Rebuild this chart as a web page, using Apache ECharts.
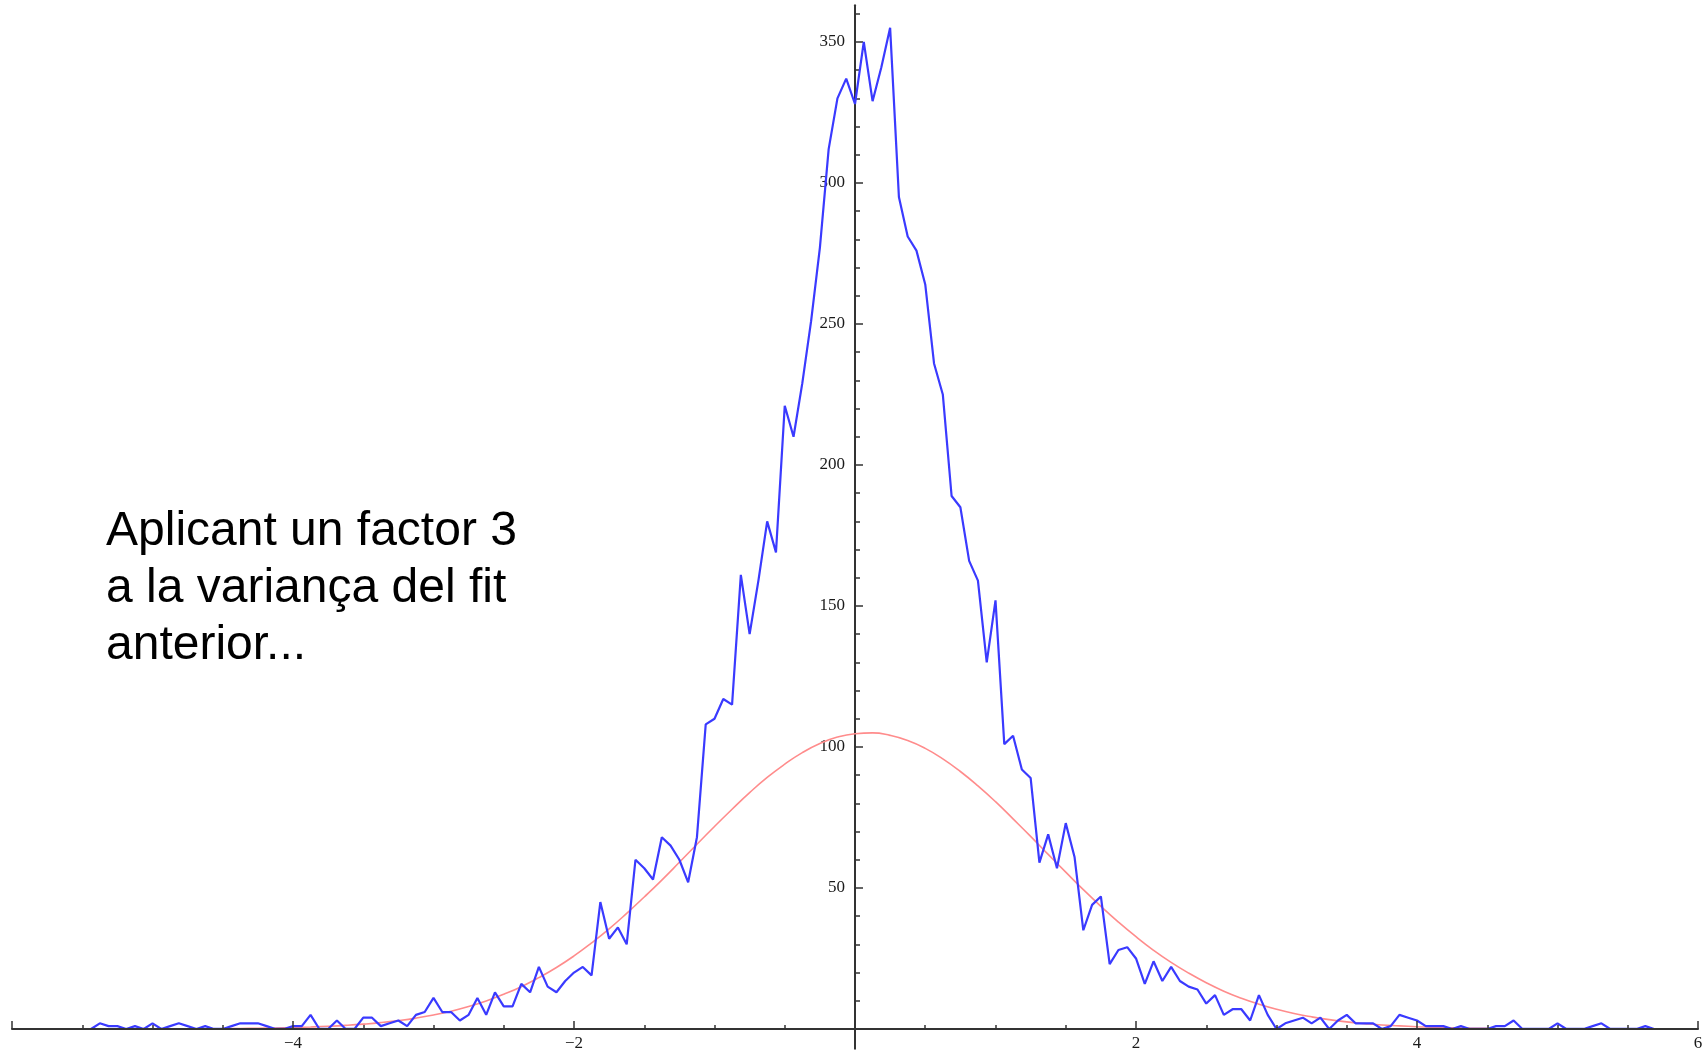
<!DOCTYPE html>
<html>
<head>
<meta charset="utf-8">
<script src="https://cdn.jsdelivr.net/npm/echarts@6/dist/echarts.min.js"></script>
<style>
	html, body { margin: 0; padding: 0; background: #fff; }
	#chart { width: 1702px; height: 1056px; }
</style>
</head>
<body>
<div id="chart"></div>
<script>
// histogram counts, one per bin of width 1/16, first bin centre at -5.4375
var binStart = -5.4375;
var binStep = 0.0625;
var counts = [
	0, 2, 1, 1, 0, 1, 0, 2, 0, 1, 2, 1, 0, 1, 0, 0,
	1, 2, 2, 2, 1, 0, 0, 1, 1, 5, 0, 0, 3, 0, 0, 4,
	4, 1, 2, 3, 1, 5, 6, 11, 6, 6, 3, 5, 11, 5, 13, 8,
	8, 16, 13, 22, 15, 13, 17, 20, 22, 19, 45, 32, 36, 30, 60, 57,
	53, 68, 65, 60, 52, 68, 108, 110, 117, 115, 161, 140, 159, 180, 169, 221,
	210, 229, 251, 277, 312, 330, 337, 328, 350, 329, 341, 355, 295, 281, 276, 264,
	236, 225, 189, 185, 166, 159, 130, 152, 101, 104, 92, 89, 59, 69, 57, 73,
	61, 35, 44, 47, 23, 28, 29, 25, 16, 24, 17, 22, 17, 15, 14, 9,
	12, 5, 7, 7, 3, 12, 5, 0, 2, 3, 4, 2, 4, 0, 3, 5,
	2, 2, 2, 0, 1, 5, 4, 3, 1, 1, 1, 0, 1, 0, 0, 0,
	1, 1, 3, 0, 0, 0, 0, 2, 0, 0, 0, 1, 2, 0, 0, 0,
	0, 1, 0
];

// fitted gaussian, read every 0.125 from -4.5 to 4.5
var fitStart = -4.5;
var fitStep = 0.125;
var fitValues = [
	0.12, 0.18, 0.25, 0.36, 0.5, 0.69, 0.94, 1.27, 1.7, 2.25, 2.96, 3.84, 4.95, 6.3, 7.95, 9.93,
	12.3, 15.0, 18.2, 21.8, 25.9, 30.5, 35.5, 41.0, 46.8, 52.8, 59.1, 65.5, 71.8, 77.9, 83.8, 89.2,
	93.9, 98.0, 101.2, 103.5, 104.7, 105.0, 104.1, 102.3, 99.5, 95.8, 91.3, 86.2, 80.6, 74.5, 68.3, 61.9,
	55.6, 49.4, 43.5, 37.9, 32.7, 27.9, 23.6, 19.8, 16.4, 13.4, 10.9, 8.8, 7.0, 5.5, 4.3, 3.3,
	2.5, 1.9, 1.4, 1.1, 0.8, 0.57, 0.4, 0.29, 0.2
];

var xTickLabels = [-4, -2, 2, 4, 6];
var yMajorTicks = [50, 100, 150, 200, 250, 300, 350];
var yMinorTicks = [10, 20, 30, 40, 60, 70, 80, 90, 110, 120, 130, 140, 160, 170, 180, 190,
	210, 220, 230, 240, 260, 270, 280, 290, 310, 320, 330, 340, 360];

var noteText = 'Aplicant un factor 3\na la variança del fit\nanterior...';

function toPairs(start, step, values) {
	var out = [];
	for (var i = 0; i < values.length; i++) {
		out.push([start + i * step, values[i]]);
	}
	return out;
}

// plot box; the axes cross at (0,0) inside it
var gridLeft = 12, gridRight = 4, gridTop = 5.3, gridBottom = 7.3;
var xMin = -6, xMax = 6, yMin = -7, yMax = 363;
var plotW = 1702 - gridLeft - gridRight;
var plotH = 1056 - gridTop - gridBottom;
var yAxisShift = -plotW * (0 - xMin) / (xMax - xMin);
var xAxisShift = -plotH * (0 - yMin) / (yMax - yMin);

var axisColor = '#333';
var tickFamily = '"Liberation Serif", serif';
var tickSize = 17;
var tickColor = '#1a1a1a';

var chart = echarts.init(document.getElementById('chart'));
chart.setOption({
	animation: false,
	backgroundColor: '#fff',
	grid: {
		left: gridLeft,
		right: gridRight,
		top: gridTop,
		bottom: gridBottom,
		containLabel: false,
		outerBoundsMode: 'none'
	},
	xAxis: {
		type: 'value',
		min: xMin,
		max: xMax,
		interval: 2,
		position: 'bottom',
		offset: xAxisShift,
		z: 3,
		axisLine: { onZero: false, lineStyle: { color: axisColor, width: 2 } },
		axisTick: { inside: true, length: 8, lineStyle: { color: axisColor, width: 1.5 } },
		minorTick: { show: true, splitNumber: 4, length: 4, lineStyle: { color: axisColor, width: 1.5 } },
		splitLine: { show: false },
		axisLabel: {
			margin: 6,
			fontFamily: tickFamily,
			fontSize: tickSize,
			color: tickColor,
			formatter: function(v) {
				if (xTickLabels.indexOf(v) < 0) return '';
				return v < 0 ? '\u2212' + (-v) : String(v);
			}
		}
	},
	yAxis: [{
		type: 'value',
		min: yMin,
		max: yMax,
		position: 'left',
		offset: yAxisShift,
		axisLine: { onZero: false, lineStyle: { color: axisColor, width: 2 } },
		axisTick: { inside: true, length: 8, customValues: yMajorTicks, lineStyle: { color: axisColor, width: 1.5 } },
		splitLine: { show: false },
		axisLabel: {
			margin: 10,
			customValues: yMajorTicks,
			fontFamily: tickFamily,
			fontSize: tickSize,
			color: tickColor
		}
	}, {
		type: 'value',
		min: yMin,
		max: yMax,
		position: 'left',
		offset: yAxisShift,
		axisLine: { show: false, onZero: false },
		axisTick: { inside: true, length: 5, customValues: yMinorTicks, lineStyle: { color: axisColor, width: 1.5 } },
		splitLine: { show: false },
		axisLabel: { show: false }
	}],
	graphic: [{
		type: 'text',
		left: 106,
		top: 503,
		style: {
			text: noteText,
			font: '48px "Liberation Sans", Arial, sans-serif',
			fill: '#000',
			lineHeight: 57
		}
	}],
	series: [{
		name: 'fit',
		type: 'line',
		data: toPairs(fitStart, fitStep, fitValues),
		smooth: true,
		showSymbol: false,
		lineStyle: { color: '#ff8c8c', width: 1.6 },
		z: 1
	}, {
		name: 'dades',
		type: 'line',
		data: toPairs(binStart, binStep, counts),
		showSymbol: false,
		lineStyle: { color: '#3a3aff', width: 2.2 },
		z: 2
	}]
});
</script>
</body>
</html>
